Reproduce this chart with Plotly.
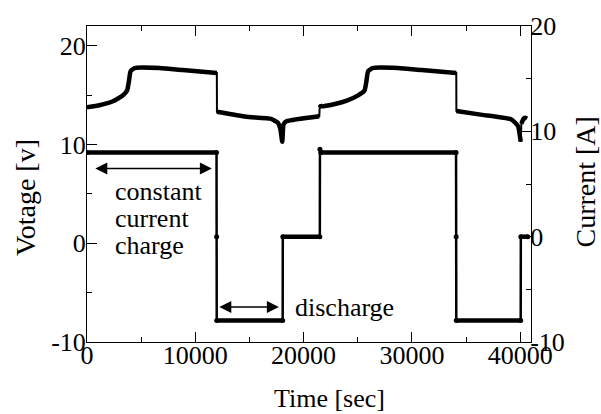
import plotly.graph_objects as go

# ---------------- data ----------------
time_v = [0, 1150, 2400, 3300, 3700, 3870, 4020, 4390, 6700, 8850, 11990,
          12000, 14700, 17000, 17630, 17850, 18030, 18150, 18460, 21450,
          21500, 21600, 22800, 24000, 25000, 25630, 25800, 25950, 26370, 28700, 30900, 34100,
          34110, 36500, 39190, 39800, 40050, 40110, 40300, 40450, 40630]
volt = [13.78, 13.98, 14.38, 14.96, 15.46, 16.4, 17.41, 17.74, 17.74, 17.54, 17.24,
        13.31, 12.80, 12.60, 12.20, 11.60, 10.28, 12.04, 12.37, 12.87,
        14.05, 13.88, 14.08, 14.45, 14.95, 15.46, 16.4, 17.41, 17.74, 17.74, 17.54, 17.24,
        13.40, 13.00, 12.54, 11.87, 10.28, 12.10, 12.60, 12.72, 12.62]

time_i = [0, 11960, 11970, 11980, 18070, 18080, 21500, 21510, 21600,
          34080, 34090, 34100, 40050, 40060, 40700]
curr = [8.0, 8.0, 0.0, -7.95, -7.95, 0.0, 0.0, 8.3, 8.0,
        8.0, 0.0, -7.95, -7.95, 0.0, 0.0]

x_ticks = [0, 10000, 20000, 30000, 40000]
y_left_ticks = [-10, 0, 10, 20]
y_right_ticks = [-10, 0, 10, 20]

FONT = "Liberation Serif, Times New Roman, serif"

# plot-area geometry in pixels (for placing free text)
W, H = 601, 414
ML, MR, MT, MB = 87, 70, 24, 72
PW, PH = W - ML - MR, H - MT - MB


def px(x):
    return (x - ML) / PW


def py(y):
    return (H - MB - y) / PH


def break_jumps(t, v, dt_max=60):
    tt, vv = [], []
    for i in range(len(t)):
        if i > 0 and (t[i] - t[i - 1]) <= dt_max:
            tt.append(None)
            vv.append(None)
        tt.append(t[i])
        vv.append(v[i])
    return tt, vv


def flat_segments(t, v):
    tt, vv = [], []
    for i in range(1, len(t)):
        if v[i] == v[i - 1]:
            tt += [t[i - 1], t[i], None]
            vv += [v[i - 1], v[i], None]
    return tt, vv


fig = go.Figure()

# voltage: thin connecting path + thick continuous parts
fig.add_trace(go.Scatter(x=time_v, y=volt, mode="lines",
                         line=dict(color="black", width=2), yaxis="y"))
tv, vv = break_jumps(time_v, volt)
fig.add_trace(go.Scatter(x=tv, y=vv, mode="lines", connectgaps=False,
                         line=dict(color="black", width=4.5, shape="spline", smoothing=0.4),
                         yaxis="y"))

# current: thin path with dots + thick flat segments
fig.add_trace(go.Scatter(x=time_i, y=curr, mode="lines+markers",
                         line=dict(color="black", width=2.5),
                         marker=dict(color="black", size=5), yaxis="y2"))
ti, ci = flat_segments(time_i, curr)
fig.add_trace(go.Scatter(x=ti, y=ci, mode="lines", connectgaps=False,
                         line=dict(color="black", width=4.5), yaxis="y2"))

axis_common = dict(
    showgrid=False, zeroline=False, showline=True, linecolor="black", linewidth=1,
    ticks="inside", ticklen=10, tickwidth=1, tickcolor="black",
    tickfont=dict(family=FONT, size=26, color="black"),
)

fig.update_layout(
    width=W, height=H,
    margin=dict(l=ML, r=MR, t=MT, b=MB),
    paper_bgcolor="white", plot_bgcolor="white",
    showlegend=False,
    xaxis=dict(range=[0, 41000], tickvals=x_ticks, ticktext=[str(v) for v in x_ticks],
               mirror="ticks", ticklabelstandoff=-10,
               minor=dict(dtick=5000, ticks="inside", ticklen=5, tickcolor="black", showgrid=False),
               **axis_common),
    yaxis=dict(range=[-10, 22], tickvals=y_left_ticks, ticktext=[str(v) for v in y_left_ticks],
               ticklabelstandoff=-5,
               minor=dict(dtick=5, ticks="inside", ticklen=5, tickcolor="black", showgrid=False),
               **axis_common),
    yaxis2=dict(range=[-10, 20], tickvals=y_right_ticks, ticktext=[str(v) for v in y_right_ticks],
                overlaying="y", side="right", ticklabelstandoff=-7,
                minor=dict(dtick=5, ticks="inside", ticklen=5, tickcolor="black", showgrid=False),
                **axis_common),
)

tf = dict(family=FONT, size=26, color="black")
annotations = [
    dict(text="constant", x=px(113), y=py(191), xanchor="left", yanchor="middle"),
    dict(text="current", x=px(113), y=py(218), xanchor="left", yanchor="middle"),
    dict(text="charge", x=px(113), y=py(244.7), xanchor="left", yanchor="middle"),
    dict(text="discharge", x=px(293), y=py(307), xanchor="left", yanchor="middle"),
    dict(text="Time [sec]", x=px(329.5), y=py(399), xanchor="center", yanchor="middle"),
    dict(text="Votage [v]", x=px(26), y=py(196), xanchor="center", yanchor="middle",
         textangle=-90, font=dict(family=FONT, size=28, color="black")),
    dict(text="Current [A]", x=px(586), y=py(181.5), xanchor="center", yanchor="middle",
         textangle=-90, font=dict(family=FONT, size=28, color="black")),
]
for a in annotations:
    a.setdefault("font", tf)
    fig.add_annotation(xref="paper", yref="paper", showarrow=False, **a)

# double-headed arrows (data coordinates, left axis)
for (x0, x1, yv) in [(630, 11530, 7.56), (12080, 17720, -6.45)]:
    fig.add_annotation(x=x1, y=yv, ax=x0, ay=yv, xref="x", yref="y", axref="x", ayref="y",
                       text="", showarrow=True, arrowhead=2, startarrowhead=2,
                       arrowside="end+start", arrowsize=1.6, startarrowsize=1.6,
                       arrowwidth=1.5, arrowcolor="black", standoff=0, startstandoff=0)

fig.write_html("out.html")
